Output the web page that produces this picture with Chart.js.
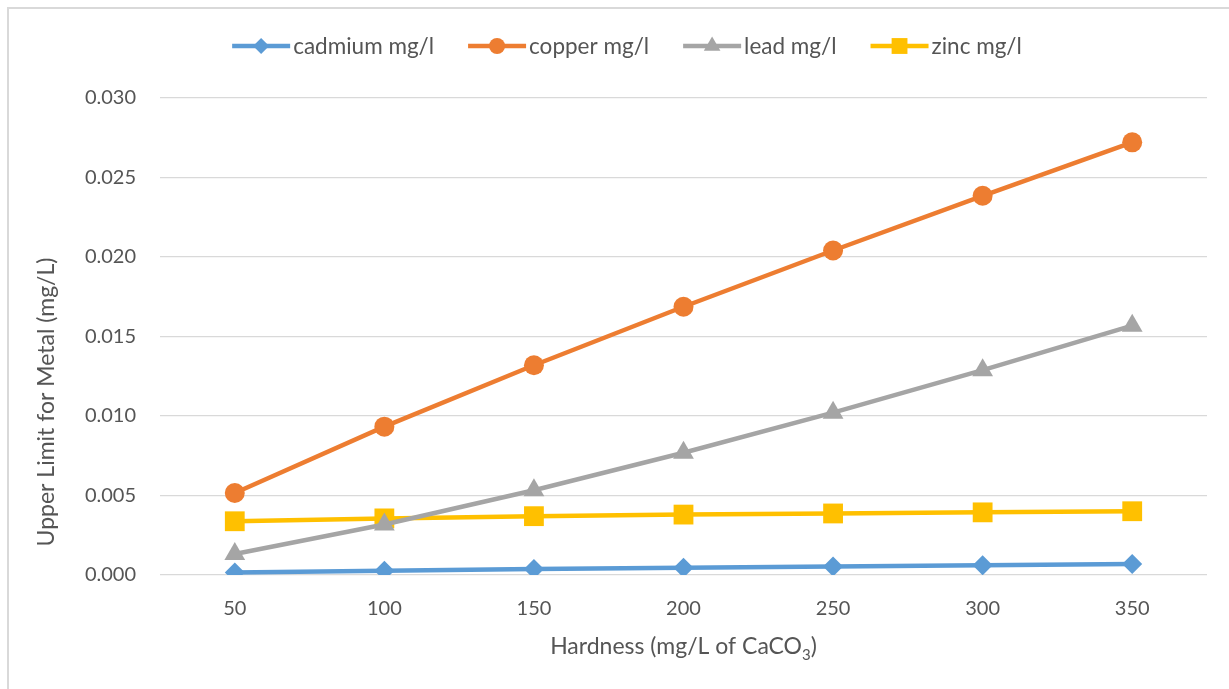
<!DOCTYPE html>
<html>
<head>
<meta charset="utf-8">
<title>Upper Limit for Metal vs Hardness</title>
<script src="https://cdn.jsdelivr.net/npm/chart.js@4/dist/chart.umd.min.js"></script>
<style>
  html, body { margin: 0; padding: 0; background: #ffffff; }
  #wrap { position: relative; width: 1229px; height: 689px; }
</style>
</head>
<body>
<div id="wrap"><canvas id="grafico" width="1229" height="689"></canvas></div>
<script>
// Hardness categories (mg/L of CaCO3)
const durezas = ['50', '100', '150', '200', '250', '300', '350'];

// Upper limits per metal (mg/L)
const cadmio = [0.00016, 0.00027, 0.00037, 0.00045, 0.00053, 0.00061, 0.00069];
const cobre  = [0.00516, 0.00933, 0.01319, 0.01687, 0.02041, 0.02385, 0.02721];
const plomo  = [0.00132, 0.00318, 0.00533, 0.00769, 0.01021, 0.01288, 0.01568];
const zinc   = [0.00338, 0.00356, 0.00370, 0.00380, 0.00387, 0.00394, 0.00401];

const etiquetasSerie = ['cadmium mg/l', 'copper mg/l', 'lead mg/l', 'zinc mg/l'];

const FUENTE = "Lato, 'Open Sans', sans-serif";
const GRIS_TEXTO = '#555555';

function serie(label, data, color, estilo, radio) {
  return {
    label: label,
    data: data,
    borderColor: color,
    backgroundColor: color,
    borderWidth: 4.5,
    pointStyle: estilo,
    pointRadius: radio,
    pointHoverRadius: radio,
    pointBorderWidth: 0,
    tension: 0
  };
}

// Frame, legend and axis titles drawn straight onto the canvas
const decoraciones = {
  id: 'decoraciones',
  afterDraw(chart) {
    const ctx = chart.ctx;
    const area = chart.chartArea;
    ctx.save();

    // chart frame (top and left edges)
    ctx.strokeStyle = '#d9d9d9';
    ctx.lineWidth = 2;
    ctx.beginPath();
    ctx.moveTo(8, chart.height);
    ctx.lineTo(8, 8);
    ctx.lineTo(chart.width, 8);
    ctx.stroke();

    // legend
    ctx.font = '22.5px ' + FUENTE;
    ctx.textBaseline = 'middle';
    ctx.textAlign = 'left';
    const largoLinea = 58, sepTexto = 3, sepItem = 34, yLeyenda = 46;
    const items = chart.data.datasets.map(ds => ({ ds: ds, w: ctx.measureText(ds.label).width }));
    let total = 0;
    items.forEach((it, i) => { total += largoLinea + sepTexto + it.w + (i < items.length - 1 ? sepItem : 0); });
    let x = 627 - total / 2;
    items.forEach(it => {
      const ds = it.ds;
      ctx.strokeStyle = ds.borderColor;
      ctx.lineWidth = ds.borderWidth;
      ctx.beginPath();
      ctx.moveTo(x, yLeyenda);
      ctx.lineTo(x + largoLinea, yLeyenda);
      ctx.stroke();
      ctx.fillStyle = ds.backgroundColor;
      Chart.helpers.drawPoint(ctx, {
        pointStyle: ds.pointStyle,
        rotation: 0,
        borderWidth: 0,
        radius: ds.pointRadius * 0.8
      }, x + largoLinea / 2, yLeyenda);
      ctx.fillStyle = GRIS_TEXTO;
      ctx.font = '22.5px ' + FUENTE;
      ctx.fillText(ds.label, x + largoLinea + sepTexto, yLeyenda + 1);
      x += largoLinea + sepTexto + it.w + sepItem;
    });

    // y axis title
    ctx.fillStyle = GRIS_TEXTO;
    ctx.font = '23px ' + FUENTE;
    ctx.textAlign = 'center';
    ctx.textBaseline = 'middle';
    ctx.save();
    ctx.translate(47, 402);
    ctx.rotate(-Math.PI / 2);
    ctx.fillText('Upper Limit for Metal (mg/L)', 0, 0);
    ctx.restore();

    // x axis title with subscript
    const parte1 = 'Hardness (mg/L of CaCO', sub = '3', parte2 = ')';
    ctx.font = '23px ' + FUENTE;
    const w1 = ctx.measureText(parte1).width;
    const w3 = ctx.measureText(parte2).width;
    ctx.font = '15px ' + FUENTE;
    const w2 = ctx.measureText(sub).width;
    const inicio = (area.left + area.right) / 2 - (w1 + w2 + w3) / 2;
    const yTitulo = 647;
    ctx.textAlign = 'left';
    ctx.font = '23px ' + FUENTE;
    ctx.fillText(parte1, inicio, yTitulo);
    ctx.font = '15px ' + FUENTE;
    ctx.fillText(sub, inicio + w1, yTitulo + 8);
    ctx.font = '23px ' + FUENTE;
    ctx.fillText(parte2, inicio + w1 + w2, yTitulo);

    ctx.restore();
  }
};

new Chart(document.getElementById('grafico'), {
  type: 'line',
  data: {
    labels: durezas,
    datasets: [
      serie(etiquetasSerie[0], cadmio, '#5B9BD5', 'rectRot', 10),
      serie(etiquetasSerie[1], cobre, '#ED7D31', 'circle', 10),
      serie(etiquetasSerie[2], plomo, '#A5A5A5', 'triangle', 12),
      serie(etiquetasSerie[3], zinc, '#FFC000', 'rect', 14)
    ]
  },
  options: {
    responsive: false,
    animation: false,
    layout: { padding: { top: 98, right: 22, bottom: 0, left: 0 } },
    plugins: {
      legend: { display: false },
      tooltip: { enabled: false }
    },
    scales: {
      x: {
        offset: true,
        grid: { display: false, drawTicks: false },
        border: { display: false },
        ticks: { color: GRIS_TEXTO, font: { family: FUENTE, size: 20 }, padding: 22 },
        afterFit(escala) { escala.height = 114; }
      },
      y: {
        min: 0,
        max: 0.03,
        grid: { color: '#d9d9d9', lineWidth: 1.3, drawTicks: false },
        border: { display: false },
        ticks: {
          stepSize: 0.005,
          color: GRIS_TEXTO,
          font: { family: FUENTE, size: 20 },
          padding: 24,
          callback: v => v.toFixed(3)
        },
        afterFit(escala) { escala.width = 160; }
      }
    }
  },
  plugins: [decoraciones]
});
</script>
</body>
</html>
